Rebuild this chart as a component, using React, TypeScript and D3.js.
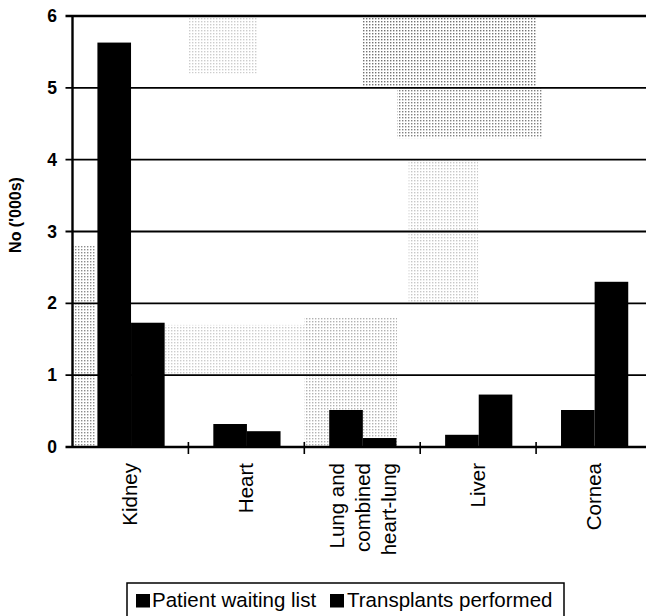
import React from "react";
import * as d3 from "d3";

const categories = ["Kidney", "Heart", "Lung and|combined|heart-lung", "Liver", "Cornea"];
const seriesNames = ["Patient waiting list", "Transplants performed"];
const waitingList = [5.63, 0.32, 0.515, 0.17, 0.515];
const transplants = [1.73, 0.22, 0.125, 0.73, 2.3];
const yTicks = [0, 1, 2, 3, 4, 5, 6];

// decorative scan-noise regions (in data coords: category index span, y span)
const noiseRegions = [
  { x0: 2.5, x1: 4.0, y0: 5.0, y1: 6.0, o: 0.55 },
  { x0: 2.8, x1: 4.05, y0: 4.3, y1: 5.0, o: 0.5 },
  { x0: 0.0, x1: 0.2, y0: 0.0, y1: 2.8, o: 0.45 },
  { x0: 2.0, x1: 2.8, y0: 0.0, y1: 1.8, o: 0.3 },
  { x0: 2.9, x1: 3.5, y0: 2.0, y1: 4.0, o: 0.22 },
  { x0: 1.0, x1: 1.6, y0: 5.2, y1: 6.0, o: 0.2 },
  { x0: 0.8, x1: 2.0, y0: 1.0, y1: 1.7, o: 0.2 },
];

export default function App() {
  const W = 646, H = 616;
  const left = 72.5, right = 652, top = 16, bottom = 447;
  const x = d3.scaleBand<string>().domain(categories).range([left, right]).padding(0);
  const xi = d3.scaleBand<string>().domain(seriesNames).range([x.bandwidth() * 0.215, x.bandwidth() * 0.795]).padding(0);
  const y = d3.scaleLinear().domain([0, 6]).range([bottom, top]);
  const xl = d3.scaleLinear().domain([0, 5]).range([left, right]);
  const font = "'Liberation Sans', Arial, sans-serif";
  const values = [waitingList, transplants];

  return (
    <svg width={W} height={H} style={{ display: "block", position: "absolute", left: 0, top: 0 }} fontFamily={font}>
      <defs>
        <pattern id="dots" width="3" height="3" patternUnits="userSpaceOnUse">
          <rect width="1.4" height="1.4" fill="#000" />
        </pattern>
      </defs>
      <rect width={W} height={H} fill="#fff" />
      {noiseRegions.map((r, i) => (
        <rect key={"n" + i} x={xl(r.x0)} y={y(r.y1)} width={xl(r.x1) - xl(r.x0)} height={y(r.y0) - y(r.y1)} fill="url(#dots)" opacity={r.o} />
      ))}
      {yTicks.map((t) => (
        <g key={"g" + t}>
          <line x1={left - 7} x2={W} y1={y(t)} y2={y(t)} stroke="#000" strokeWidth={t === 0 || t === 6 ? 2.4 : 1.8} />
          <text x={57} y={y(t) + 6} textAnchor="end" fontSize={17.5} fontWeight="bold">{t}</text>
        </g>
      ))}
      <line x1={left} x2={left} y1={top - 1} y2={bottom + 1} stroke="#000" strokeWidth={2.4} />
      {categories.map((c, ci) =>
        seriesNames.map((s, si) => (
          <rect key={c + s} x={(x(c) as number) + (xi(s) as number)} y={y(values[si][ci])} width={xi.bandwidth()} height={y(0) - y(values[si][ci])} fill="#000" />
        ))
      )}
      {categories.slice(1).map((c) => (
        <line key={"t" + c} x1={x(c)} x2={x(c)} y1={bottom - 5} y2={bottom + 7} stroke="#000" strokeWidth={1.6} />
      ))}
      {categories.map((c) => {
        const lines = c.split("|");
        const cx = (x(c) as number) + x.bandwidth() / 2;
        return (
          <g key={"l" + c}>
            {lines.map((ln, i) => {
              const bx = cx + 7 + (i - (lines.length - 1) / 2) * 26 + (lines.length > 1 ? 1 : 0);
              return (
                <text key={ln} transform={`translate(${bx},463) rotate(-90)`} textAnchor="end" fontSize={20.5}>{ln}</text>
              );
            })}
          </g>
        );
      })}
      <text transform="translate(21,215) rotate(-90)" textAnchor="middle" fontSize={16} fontWeight="bold">No ('000s)</text>
      <rect x={127} y={583} width={437} height={40} fill="none" stroke="#000" strokeWidth={1.5} />
      <rect x={136} y={594} width={14} height={13.5} fill="#000" />
      <text x={152} y={607} fontSize={20.5}>{seriesNames[0]}</text>
      <rect x={330} y={594} width={14} height={13.5} fill="#000" />
      <text x={347} y={607} fontSize={20.5}>{seriesNames[1]}</text>
    </svg>
  );
}
